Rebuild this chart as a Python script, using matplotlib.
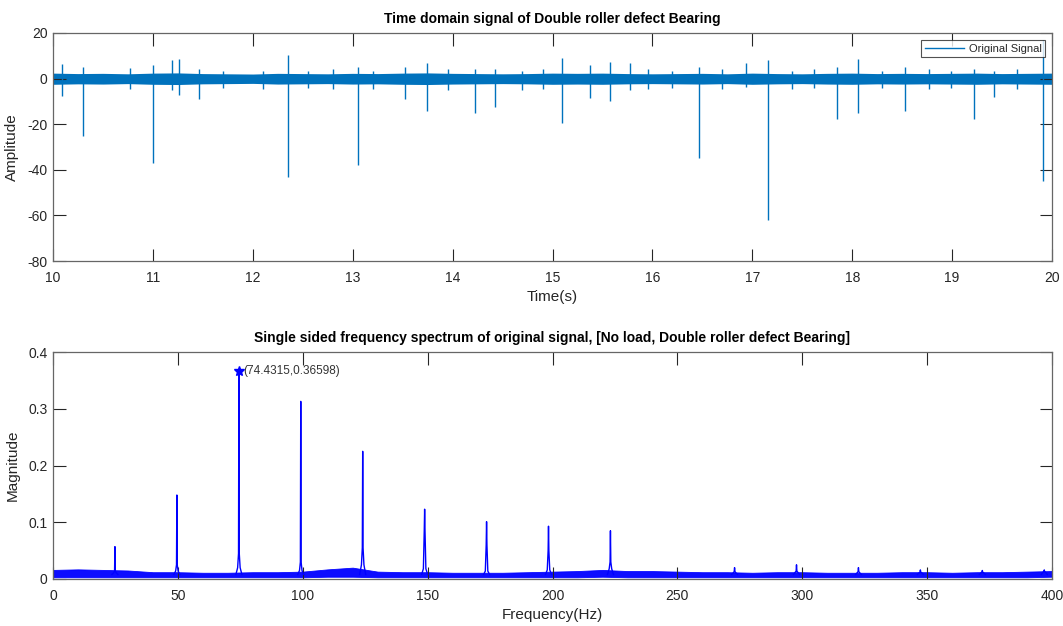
import numpy as np
import matplotlib
matplotlib.use("Agg")
import matplotlib.pyplot as plt

plt.rcParams['font.family'] = ['Liberation Sans', 'DejaVu Sans']
plt.rcParams['axes.unicode_minus'] = False

# ---------------- time-domain data ----------------
t_start, t_end = 10.0, 20.0
# background vibration band (upper / lower envelope every 0.25 s)
band_t = [10.0, 10.25, 10.5, 10.75, 11.0, 11.25, 11.5, 11.75, 12.0, 12.25, 12.5,
          12.75, 13.0, 13.25, 13.5, 13.75, 14.0, 14.25, 14.5, 14.75, 15.0,
          15.25, 15.5, 15.75, 16.0, 16.25, 16.5, 16.75, 17.0, 17.25, 17.5,
          17.75, 18.0, 18.25, 18.5, 18.75, 19.0, 19.25, 19.5, 19.75, 20.0]
band_hi = [2.4, 2.2, 2.3, 2.1, 2.4, 2.5, 2.2, 2.1, 2.0, 2.3, 2.2,
           2.1, 2.3, 2.2, 2.4, 2.5, 2.3, 2.2, 2.1, 2.2, 2.4,
           2.3, 2.4, 2.2, 2.1, 2.2, 2.3, 2.1, 2.4, 2.2, 2.1,
           2.3, 2.4, 2.2, 2.3, 2.2, 2.3, 2.4, 2.2, 2.3, 2.4]
band_lo = [-2.5, -2.3, -2.4, -2.2, -2.5, -2.6, -2.3, -2.2, -2.1, -2.4, -2.3,
           -2.2, -2.4, -2.3, -2.5, -2.6, -2.4, -2.3, -2.2, -2.3, -2.5,
           -2.4, -2.5, -2.3, -2.2, -2.3, -2.4, -2.2, -2.5, -2.3, -2.2,
           -2.4, -2.5, -2.3, -2.4, -2.3, -2.4, -2.5, -2.3, -2.4, -2.5]

# impacts: time, positive peak, negative peak
impact_t = [10.09, 10.30, 10.77, 11.00, 11.19, 11.26, 11.46, 11.70, 12.10,
            12.355, 12.55, 12.80, 13.05, 13.20, 13.52, 13.74, 13.95, 14.22,
            14.42, 14.69, 14.90, 15.095, 15.375, 15.576, 15.78, 15.96, 16.20,
            16.47, 16.70, 16.94, 17.16, 17.40, 17.62, 17.85, 18.06, 18.30,
            18.53, 18.77, 18.99, 19.22, 19.42, 19.65, 19.91]
impact_up = [6.5, 5.0, 4.5, 6.0, 8.0, 8.5, 4.0, 3.5, 3.5,
             10.5, 3.5, 4.0, 5.0, 3.5, 5.0, 7.0, 4.0, 4.0,
             4.0, 3.5, 4.0, 9.0, 6.0, 7.5, 7.0, 4.0, 3.5,
             5.0, 4.0, 7.0, 8.0, 3.5, 4.0, 5.0, 8.5, 3.5,
             5.0, 4.0, 3.5, 4.0, 3.5, 4.0, 17.0]
impact_dn = [-7.5, -25.0, -4.5, -37.0, -5.0, -7.0, -9.0, -4.0, -4.5,
             -43.0, -4.0, -4.5, -38.0, -4.5, -9.0, -14.0, -5.0, -15.0,
             -12.5, -5.0, -4.5, -19.5, -8.5, -10.0, -5.0, -4.5, -4.0,
             -35.0, -4.5, -3.5, -62.0, -4.5, -4.0, -17.5, -15.0, -4.0,
             -14.0, -4.5, -4.0, -17.5, -8.0, -4.5, -45.0]

# ---------------- spectrum data ----------------
floor_f = [0, 10, 20, 30, 40, 50, 60, 70, 80, 90, 100, 110, 120, 130, 140,
           150, 160, 170, 180, 190, 200, 210, 220, 230, 240, 250, 260, 270,
           280, 290, 300, 310, 320, 330, 340, 350, 360, 370, 380, 390, 400]
floor_hi = [0.016, 0.017, 0.016, 0.015, 0.012, 0.012, 0.011, 0.011, 0.012,
            0.012, 0.013, 0.017, 0.020, 0.013, 0.012, 0.012, 0.011, 0.011,
            0.011, 0.012, 0.013, 0.014, 0.016, 0.014, 0.014, 0.013, 0.012,
            0.012, 0.011, 0.012, 0.012, 0.011, 0.011, 0.011, 0.012, 0.012,
            0.011, 0.012, 0.012, 0.013, 0.014]
floor_lo = [0.003, 0.003, 0.003, 0.003, 0.003, 0.003, 0.003, 0.003, 0.003,
            0.003, 0.003, 0.004, 0.004, 0.003, 0.003, 0.003, 0.003, 0.003,
            0.003, 0.003, 0.003, 0.003, 0.004, 0.003, 0.003, 0.003, 0.003,
            0.003, 0.003, 0.003, 0.003, 0.003, 0.003, 0.003, 0.003, 0.003,
            0.003, 0.003, 0.003, 0.003, 0.004]

peak_f = [24.8, 49.6, 74.4315, 99.2, 124.0, 148.8, 173.6, 198.4, 223.2,
          272.9, 297.7, 322.5, 347.3, 372.1, 396.9]
peak_mag = [0.057, 0.148, 0.36598, 0.313, 0.225, 0.123, 0.101, 0.093, 0.085,
            0.020, 0.025, 0.020, 0.016, 0.015, 0.016]
skirt_mag = [0.014, 0.025, 0.045, 0.030, 0.055, 0.085, 0.060, 0.050, 0.030,
             0.013, 0.014, 0.013, 0.012, 0.012, 0.013]
skirt_base = [0.011, 0.014, 0.020, 0.015, 0.025, 0.018, 0.014, 0.016, 0.018,
              0.011, 0.012, 0.011, 0.011, 0.011, 0.012]

top_f, top_mag = 74.4315, 0.36598

# ---------------- figure ----------------
W, H = 1063, 626
fig = plt.figure(figsize=(W / 100, H / 100), dpi=100, facecolor='white')

axis_col = '#262626'
edge_col = '#666666'


def style_axes(ax):
    for s in ax.spines.values():
        s.set_color(edge_col)
        s.set_linewidth(0.9)
    ax.tick_params(direction='in', length=9, width=0.8, color=axis_col,
                   labelcolor=axis_col, labelsize=10, top=True, right=True)
    ax.tick_params(axis='x', pad=7)
    ax.tick_params(axis='y', pad=4)


# top panel
ax1 = fig.add_axes([53 / W, 1 - 261 / H, 999 / W, 228 / H])
sig_col = '#0072BD'
ax1.fill_between(band_t, band_lo, band_hi, color=sig_col, lw=0)
ax1.vlines(impact_t, impact_dn, impact_up, color=sig_col, lw=1.0)
ax1.plot([], [], color=sig_col, lw=1.0, label='Original Signal')
ax1.set_xlim(t_start, t_end)
ax1.set_ylim(-80, 20)
ax1.set_xticks(np.arange(10, 21, 1))
ax1.set_yticks(np.arange(-80, 21, 20))
style_axes(ax1)
ax1.set_xlabel('Time(s)', fontsize=11, color=axis_col, labelpad=4)
ax1.set_ylabel('Amplitude', fontsize=11, color=axis_col, labelpad=6)
ax1.set_title('Time domain signal of Double roller defect Bearing',
              fontsize=10, fontweight='bold', color='black', pad=7)
leg = ax1.legend(loc='upper right', fontsize=8, frameon=True, fancybox=False,
                 handlelength=3.5, borderpad=0.35, borderaxespad=0.6,
                 handletextpad=0.4)
leg.get_frame().set_edgecolor(axis_col)
leg.get_frame().set_linewidth(0.8)
for txt in leg.get_texts():
    txt.set_color(axis_col)

# bottom panel
ax2 = fig.add_axes([53 / W, 1 - 579 / H, 999 / W, 227 / H])
spec_col = '#0000ff'
ax2.fill_between(floor_f, floor_lo, floor_hi, color=spec_col, lw=0.6,
                 alpha=0.95)
for f, m, sk, sb in zip(peak_f, peak_mag, skirt_mag, skirt_base):
    xs = [f - 1.2, f - 0.5, f - 0.15, f, f + 0.15, f + 0.5, f + 1.2]
    ys = [0.008, sb, sk, m, sk, sb, 0.008]
    ax2.plot(xs, ys, color=spec_col, lw=1.0)
ax2.plot([top_f], [top_mag], marker='*', color=spec_col, ms=7, ls='none')
ax2.annotate('(%g,%g)' % (top_f, top_mag), xy=(top_f, top_mag),
             xytext=(3, 0), textcoords='offset points', va='center',
             ha='left', fontsize=8.5, color='#333333')
ax2.set_xlim(0, 400)
ax2.set_ylim(0, 0.4)
ax2.set_xticks(np.arange(0, 401, 50))
ax2.set_yticks([0, 0.1, 0.2, 0.3, 0.4])
ax2.set_yticklabels(['0', '0.1', '0.2', '0.3', '0.4'])
style_axes(ax2)
ax2.set_xlabel('Frequency(Hz)', fontsize=11, color=axis_col, labelpad=4)
ax2.set_ylabel('Magnitude', fontsize=11, color=axis_col, labelpad=6)
ax2.set_title('Single sided frequency spectrum of original signal, '
              '[No load, Double roller defect Bearing]',
              fontsize=10, fontweight='bold', color='black', pad=7)

fig.savefig('out.png', dpi=100, facecolor='white')
